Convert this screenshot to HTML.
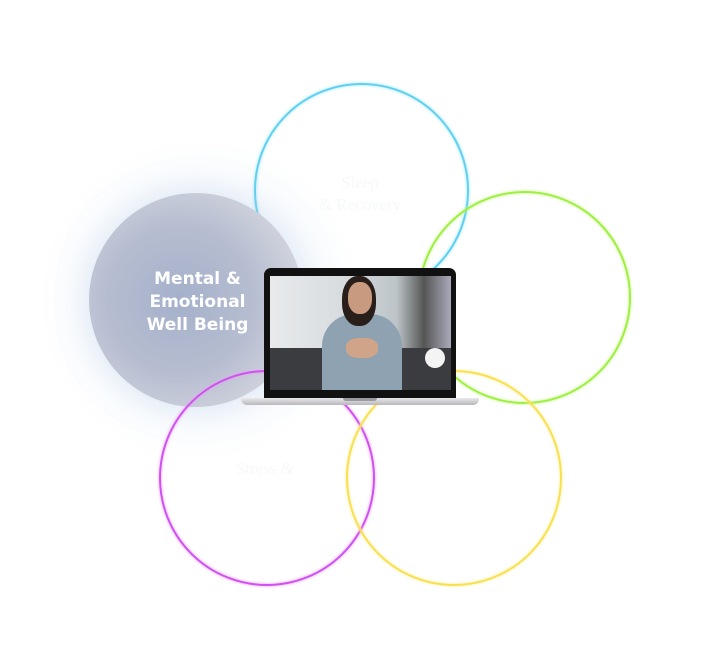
<!DOCTYPE html>
<html><head><style>
html,body{margin:0;padding:0;background:#fff;width:720px;height:670px;overflow:hidden;position:relative;font-family:"Liberation Sans",sans-serif}
.c{position:absolute;border-radius:50%;box-sizing:border-box}
.t{position:absolute;color:#f6f8fa;font-family:"Liberation Serif",serif;font-size:17px;text-align:center;line-height:22px}
</style></head><body>
<div style="position:absolute;left:20px;top:130px;width:360px;height:340px;border-radius:50%;background:radial-gradient(circle,rgba(170,200,235,.3),rgba(255,255,255,0) 65%)"></div>
<div class="c" style="left:254px;top:83px;width:215px;height:215px;border:2px solid #5fd0f0;box-shadow:0 0 3px #9ee6fa, inset 0 0 3px #9ee6fa"></div>
<div class="c" style="left:418px;top:191px;width:213px;height:213px;border:2px solid #9ef040;box-shadow:0 0 3px #c8f890, inset 0 0 3px #c8f890"></div>
<div class="c" style="left:89px;top:193px;width:214px;height:214px;background:radial-gradient(circle at 42% 50%,#a4b0ca 0%,#b6bdd0 45%,#d6d8e0 82%,#cfd1d8 100%);box-shadow:0 0 30px rgba(190,210,235,.5)"></div>
<div class="c" style="left:159px;top:370px;width:216px;height:216px;border:2px solid #d050f0;box-shadow:0 0 3px #e8a0f8, inset 0 0 3px #e8a0f8"></div>
<div class="c" style="left:346px;top:370px;width:216px;height:216px;border:2px solid #f8e050;box-shadow:0 0 3px #fbee9a, inset 0 0 3px #fbee9a"></div>
<div class="t" style="left:300px;top:172px;width:120px">Sleep<br>&amp; Recovery</div>
<div class="t" style="left:200px;top:458px;width:130px">Stress &amp;</div>
<div style="position:absolute;left:130px;top:268px;width:135px;text-align:center;color:#fff;font-family:'DejaVu Sans',sans-serif;font-weight:bold;font-size:17px;line-height:23px">Mental &amp;<br>Emotional<br>Well Being</div>
<div style="position:absolute;left:264px;top:268px;width:192px;height:131px;background:#111;border-radius:7px 7px 0 0"></div>
<div style="position:absolute;left:270px;top:276px;width:181px;height:114px;background:linear-gradient(90deg,#e8eaec 0%,#d8dcdf 40%,#bcc4c8 70%,#555 85%,#aab 100%);overflow:hidden">
 <div style="position:absolute;left:0;top:72px;width:181px;height:42px;background:#3a3c40"></div>
 <div style="position:absolute;left:52px;top:38px;width:80px;height:80px;border-radius:40% 40% 0 0;background:#8ea2b2"></div>
 <div style="position:absolute;left:72px;top:0px;width:34px;height:50px;border-radius:45%;background:#2a1e1a"></div>
 <div style="position:absolute;left:78px;top:6px;width:24px;height:32px;border-radius:45%;background:#c89a80"></div>
 <div style="position:absolute;left:76px;top:62px;width:32px;height:20px;border-radius:40%;background:#d0a488"></div>
 <div style="position:absolute;left:155px;top:72px;width:20px;height:20px;border-radius:50%;background:#f4f4f4"></div>
</div>
<div style="position:absolute;left:241px;top:398px;width:238px;height:7px;background:linear-gradient(#e8e8ea,#b8b8bc);border-radius:0 0 6px 6px"></div>
<div style="position:absolute;left:343px;top:398px;width:34px;height:3px;background:#9a9aa0;border-radius:0 0 3px 3px"></div>
</body></html>
